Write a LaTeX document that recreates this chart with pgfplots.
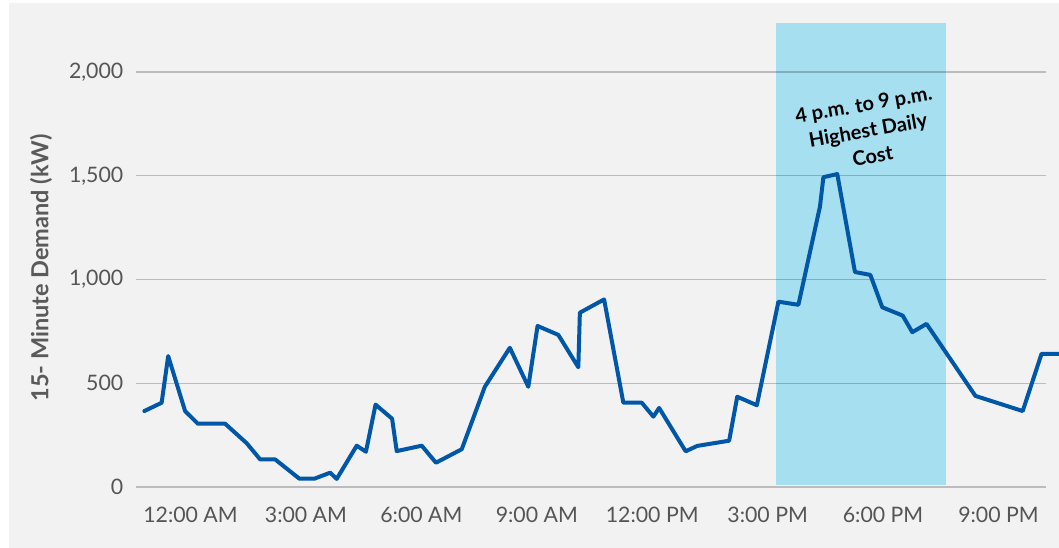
\documentclass[border=0pt]{standalone}
\usepackage{pgfplots}
\pgfplotsset{compat=1.18}
\usepackage{fontspec}
\setmainfont{Lato}
\definecolor{bgc}{HTML}{F2F2F2}
\definecolor{demandblue}{HTML}{0057A8}
\definecolor{hl}{HTML}{A6DFF0}
\definecolor{ticktext}{HTML}{555555}
\definecolor{labeltext}{HTML}{5A5A5A}
\begin{document}
\begin{tikzpicture}[x=1pt,y=1pt]
\useasboundingbox (0,0) rectangle (1059,548);
\fill[white] (0,0) rectangle (1059,548);
\fill[bgc] (9,0) rectangle (1059,545);
\pgfplotsset{
  common/.style={
    at={(136pt,61pt)}, anchor=south west, scale only axis,
    width=910pt, height=466.9pt,
    xmin=-1.4165, xmax=22.2355, ymin=0, ymax=2250,
    clip=false, axis line style={draw=none}, major tick length=0pt,
  }
}
% highlight layer
\begin{axis}[common, xtick=\empty, ytick=\empty]
\fill[hl] (axis cs:15.23,8) rectangle (axis cs:19.64,2235);
\end{axis}
% main axis
\begin{axis}[common,
  ytick={0,500,1000,1500,2000},
  xtick={0,3,6,9,12,15,18,21},
  xticklabels={12:00 AM,3:00 AM,6:00 AM,9:00 AM,12:00 PM,3:00 PM,6:00 PM,9:00 PM},
  /pgf/number format/assume math mode=true,
  /pgf/number format/1000 sep={,},
  ymajorgrids,
  major grid style={black, opacity=0.22, line width=1.3pt},
  tick label style={font=\fontsize{21.3}{24}\selectfont, text=ticktext, inner sep=0pt},
  yticklabel style={anchor=east, xshift=-12.5pt},
  xticklabel style={anchor=north, yshift=-20pt},
  ylabel={15- Minute Demand (kW)},
  ylabel style={at={(axis description cs:-0.1044,0.469)}, anchor=center,
    font=\fontsize{23.5}{27}\selectfont\bfseries, text=labeltext},
]
\addplot[demandblue, line width=4pt, line join=round, line cap=round] coordinates {
(-1.20,366) (-0.75,406) (-0.58,631) (-0.14,366) (0.19,305) (0.90,305)
(1.46,211) (1.81,133) (2.20,133) (2.83,40) (3.22,40) (3.63,69) (3.80,39)
(4.32,199) (4.56,170) (4.81,397) (5.24,329) (5.36,173) (6.01,199) (6.38,117)
(7.05,182) (7.65,483) (8.30,671) (8.78,483) (9.02,776) (9.56,733) (10.08,577)
(10.12,840) (10.75,904) (11.25,406) (11.73,406) (12.03,339) (12.18,381)
(12.87,172) (13.17,198) (14.00,223) (14.21,435) (14.72,394) (15.28,893)
(15.80,878) (16.36,1351) (16.45,1493) (16.81,1508) (17.27,1036) (17.67,1022)
(17.98,866) (18.51,826) (18.76,746) (19.13,786) (20.40,439) (21.63,366)
(22.12,642) (22.57,642)
};
\node[rotate=10, align=center, font=\fontsize{20}{26}\selectfont\bfseries, text=black]
  at (axis cs:17.61,1720) {4 p.m. to 9 p.m.\\Highest Daily\\Cost};
\end{axis}
\end{tikzpicture}
\end{document}
